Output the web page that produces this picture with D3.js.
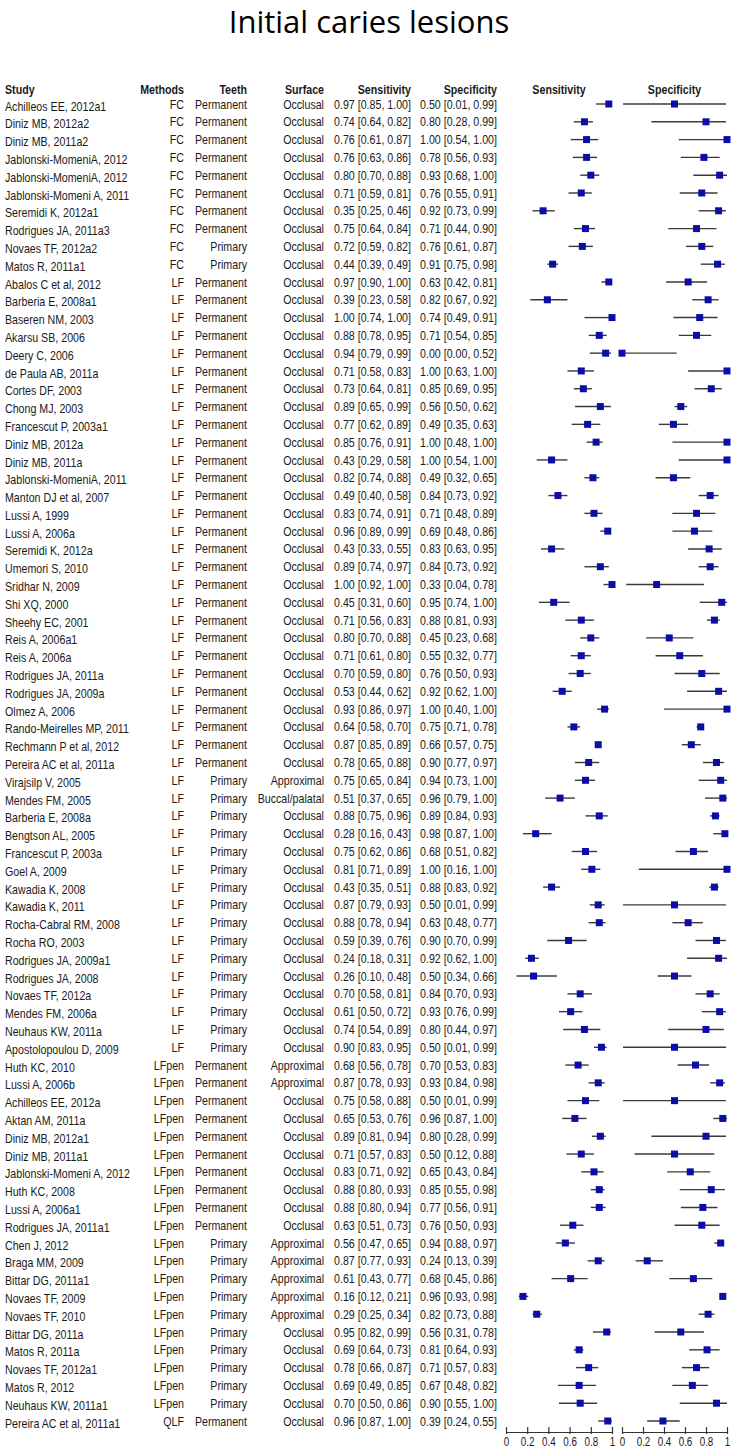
<!DOCTYPE html>
<html>
<head>
  <meta charset="utf-8">
  <title>Initial caries lesions</title>
  <script src="https://d3js.org/d3.v7.min.js"></script>
  <style>
    body { margin: 0; background: #fff; }
    text { font-family: 'Liberation Sans', Arial, sans-serif; fill: #1a1a1a; }
  </style>
</head>
<body>
<div id="chart"></div>
<script type="text/javascript">
  // dados
  let studies = [
    'Achilleos EE, 2012a1', 'Diniz MB, 2012a2', 'Diniz MB, 2011a2', 'Jablonski-MomeniA, 2012',
    'Jablonski-MomeniA, 2012', 'Jablonski-Momeni A, 2011', 'Seremidi K, 2012a1', 'Rodrigues JA, 2011a3',
    'Novaes TF, 2012a2', 'Matos R, 2011a1', 'Abalos C et al, 2012', 'Barberia E, 2008a1',
    'Baseren NM, 2003', 'Akarsu SB, 2006', 'Deery C, 2006', 'de Paula AB, 2011a',
    'Cortes DF, 2003', 'Chong MJ, 2003', 'Francescut P, 2003a1', 'Diniz MB, 2012a',
    'Diniz MB, 2011a', 'Jablonski-MomeniA, 2011', 'Manton DJ et al, 2007', 'Lussi A, 1999',
    'Lussi A, 2006a', 'Seremidi K, 2012a', 'Umemori S, 2010', 'Sridhar N, 2009',
    'Shi XQ, 2000', 'Sheehy EC, 2001', 'Reis A, 2006a1', 'Reis A, 2006a',
    'Rodrigues JA, 2011a', 'Rodrigues JA, 2009a', 'Olmez A, 2006', 'Rando-Meirelles MP, 2011',
    'Rechmann P et al, 2012', 'Pereira AC et al, 2011a', 'Virajsilp V, 2005', 'Mendes FM, 2005',
    'Barberia E, 2008a', 'Bengtson AL, 2005', 'Francescut P, 2003a', 'Goel A, 2009',
    'Kawadia K, 2008', 'Kawadia K, 2011', 'Rocha-Cabral RM, 2008', 'Rocha RO, 2003',
    'Rodrigues JA, 2009a1', 'Rodrigues JA, 2008', 'Novaes TF, 2012a', 'Mendes FM, 2006a',
    'Neuhaus KW, 2011a', 'Apostolopoulou D, 2009', 'Huth KC, 2010', 'Lussi A, 2006b',
    'Achilleos EE, 2012a', 'Aktan AM, 2011a', 'Diniz MB, 2012a1', 'Diniz MB, 2011a1',
    'Jablonski-Momeni A, 2012', 'Huth KC, 2008', 'Lussi A, 2006a1', 'Rodrigues JA, 2011a1',
    'Chen J, 2012', 'Braga MM, 2009', 'Bittar DG, 2011a1', 'Novaes TF, 2009',
    'Novaes TF, 2010', 'Bittar DG, 2011a', 'Matos R, 2011a', 'Novaes TF, 2012a1',
    'Matos R, 2012', 'Neuhaus KW, 2011a1', 'Pereira AC et al, 2011a1'
  ];

  let methods = [].concat(
    Array(10).fill('FC'), Array(44).fill('LF'), Array(20).fill('LFpen'), ['QLF']);

  let teeth = [].concat(
    Array(8).fill('Permanent'), Array(2).fill('Primary'),
    Array(28).fill('Permanent'), Array(16).fill('Primary'),
    Array(10).fill('Permanent'), Array(10).fill('Primary'), ['Permanent']);

  let surfaces = [].concat(
    Array(38).fill('Occlusal'), ['Approximal', 'Buccal/palatal'], Array(14).fill('Occlusal'),
    ['Approximal', 'Approximal'], Array(8).fill('Occlusal'),
    Array(5).fill('Approximal'), Array(6).fill('Occlusal'));

  let sensEst = [0.97,0.74,0.76,0.76,0.80,0.71,0.35,0.75,0.72,0.44, 0.97,0.39,1.00,0.88,0.94,0.71,0.73,0.89,0.77,0.85,
                 0.43,0.82,0.49,0.83,0.96,0.43,0.89,1.00,0.45,0.71, 0.80,0.71,0.70,0.53,0.93,0.64,0.87,0.78,0.75,0.51,
                 0.88,0.28,0.75,0.81,0.43,0.87,0.88,0.59,0.24,0.26, 0.70,0.61,0.74,0.90,0.68,0.87,0.75,0.65,0.89,0.71,
                 0.83,0.88,0.88,0.63,0.56,0.87,0.61,0.16,0.29,0.95, 0.69,0.78,0.69,0.70,0.96];
  let sensLo  = [0.85,0.64,0.61,0.63,0.70,0.59,0.25,0.64,0.59,0.39, 0.90,0.23,0.74,0.78,0.79,0.58,0.64,0.65,0.62,0.76,
                 0.29,0.74,0.40,0.74,0.89,0.33,0.74,0.92,0.31,0.56, 0.70,0.61,0.59,0.44,0.86,0.58,0.85,0.65,0.65,0.37,
                 0.75,0.16,0.62,0.71,0.35,0.79,0.78,0.39,0.18,0.10, 0.58,0.50,0.54,0.83,0.56,0.78,0.58,0.53,0.81,0.57,
                 0.71,0.80,0.80,0.51,0.47,0.77,0.43,0.12,0.25,0.82, 0.64,0.66,0.49,0.50,0.87];
  let sensHi  = [1.00,0.82,0.87,0.86,0.88,0.81,0.46,0.84,0.82,0.49, 1.00,0.58,1.00,0.95,0.99,0.83,0.81,0.99,0.89,0.91,
                 0.58,0.88,0.58,0.91,0.99,0.55,0.97,1.00,0.60,0.83, 0.88,0.80,0.80,0.62,0.97,0.70,0.89,0.88,0.84,0.65,
                 0.96,0.43,0.86,0.89,0.51,0.93,0.94,0.76,0.31,0.48, 0.81,0.72,0.89,0.95,0.78,0.93,0.88,0.76,0.94,0.83,
                 0.92,0.93,0.94,0.73,0.65,0.93,0.77,0.21,0.34,0.99, 0.73,0.87,0.85,0.86,1.00];

  let specEst = [0.50,0.80,1.00,0.78,0.93,0.76,0.92,0.71,0.76,0.91, 0.63,0.82,0.74,0.71,0.00,1.00,0.85,0.56,0.49,1.00,
                 1.00,0.49,0.84,0.71,0.69,0.83,0.84,0.33,0.95,0.88, 0.45,0.55,0.76,0.92,1.00,0.75,0.66,0.90,0.94,0.96,
                 0.89,0.98,0.68,1.00,0.88,0.50,0.63,0.90,0.92,0.50, 0.84,0.93,0.80,0.50,0.70,0.93,0.50,0.96,0.80,0.50,
                 0.65,0.85,0.77,0.76,0.94,0.24,0.68,0.96,0.82,0.56, 0.81,0.71,0.67,0.90,0.39];
  let specLo  = [0.01,0.28,0.54,0.56,0.68,0.55,0.73,0.44,0.61,0.75, 0.42,0.67,0.49,0.54,0.00,0.63,0.69,0.50,0.35,0.48,
                 0.54,0.32,0.73,0.48,0.48,0.63,0.73,0.04,0.74,0.81, 0.23,0.32,0.50,0.62,0.40,0.71,0.57,0.77,0.73,0.79,
                 0.84,0.87,0.51,0.16,0.83,0.01,0.48,0.70,0.62,0.34, 0.70,0.76,0.44,0.01,0.53,0.84,0.01,0.87,0.28,0.12,
                 0.43,0.55,0.56,0.50,0.88,0.13,0.45,0.93,0.73,0.31, 0.64,0.57,0.48,0.55,0.24];
  let specHi  = [0.99,0.99,1.00,0.93,1.00,0.91,0.99,0.90,0.87,0.98, 0.81,0.92,0.91,0.85,0.52,1.00,0.95,0.62,0.63,1.00,
                 1.00,0.65,0.92,0.89,0.86,0.95,0.92,0.78,1.00,0.93, 0.68,0.77,0.93,1.00,1.00,0.78,0.75,0.97,1.00,1.00,
                 0.93,1.00,0.82,1.00,0.92,0.99,0.77,0.99,1.00,0.66, 0.93,0.99,0.97,0.99,0.83,0.98,0.99,1.00,0.99,0.88,
                 0.84,0.98,0.91,0.93,0.97,0.39,0.86,0.98,0.88,0.78, 0.93,0.83,0.82,1.00,0.55];

  let axisTicks = [0, 0.2, 0.4, 0.6, 0.8, 1];

  let width = 736, height = 1453;
  let blue = '#0d0da6';
  let narrow = 0.82;   // Liberation Sans estreitada ~ Arial Narrow
  let f2 = d3.format('.2f');

  let svg = d3.select('#chart')
      .append('svg')
        .attr('width', width)
        .attr('height', height);

  // titulo
  svg.append('text')
     .attr('x', 369)
     .attr('y', 33)
     .attr('text-anchor', 'middle')
     .style('font-family', "'Open Sans', 'Liberation Sans', sans-serif")
     .style('font-size', '31px')
     .style('fill', '#000')
     .text('Initial caries lesions');

  let rows = d3.range(studies.length);
  let y = d3.scalePoint().domain(rows).range([104, 1421]);

  let xSens = d3.scaleLinear().domain([0, 1]).range([506, 612]);
  let xSpec = d3.scaleLinear().domain([0, 1]).range([622, 727]);

  // cabeçalhos
  let headers = [
    {t: 'Study', x: 5, a: 'start'},
    {t: 'Methods', x: 184, a: 'end'},
    {t: 'Teeth', x: 247, a: 'end'},
    {t: 'Surface', x: 324, a: 'end'},
    {t: 'Sensitivity', x: 411, a: 'end'},
    {t: 'Specificity', x: 497, a: 'end'},
    {t: 'Sensitivity', x: 559, a: 'middle'},
    {t: 'Specificity', x: 674.5, a: 'middle'}
  ];
  svg.selectAll('text.header')
     .data(headers)
     .enter()
     .append('text')
     .attr('class', 'header')
     .attr('transform', d => `translate(${d.x},89) scale(${narrow},1)`)
     .attr('dy', '0.35em')
     .attr('text-anchor', d => d.a)
     .style('font-size', '13px')
     .style('font-weight', 'bold')
     .text(d => d.t);

  // colunas de texto
  svg.append('clipPath').attr('id', 'studyClip')
     .append('rect').attr('x', 0).attr('y', 0).attr('width', 131).attr('height', height);

  let columns = [
    {vals: studies, x: 5, a: 'start', dy: 2, clip: true},
    {vals: methods, x: 184, a: 'end', dy: 0},
    {vals: teeth, x: 247, a: 'end', dy: 0},
    {vals: surfaces, x: 324, a: 'end', dy: 0},
    {vals: rows.map(i => `${f2(sensEst[i])} [${f2(sensLo[i])}, ${f2(sensHi[i])}]`), x: 411, a: 'end', dy: 0},
    {vals: rows.map(i => `${f2(specEst[i])} [${f2(specLo[i])}, ${f2(specHi[i])}]`), x: 497, a: 'end', dy: 0}
  ];

  columns.forEach(col => {
    let g = svg.append('g');
    if (col.clip) g.attr('clip-path', 'url(#studyClip)');
    g.selectAll('text')
     .data(col.vals)
     .enter()
     .append('text')
     .attr('transform', (d, i) => `translate(${col.x},${y(i) + col.dy}) scale(${narrow},1)`)
     .attr('dy', '0.35em')
     .attr('text-anchor', col.a)
     .style('font-size', '13px')
     .text(d => d);
  });

  // forest plots
  function forest(x, est, lo, hi) {
    let g = svg.append('g');
    g.selectAll('line.ci')
     .data(rows)
     .enter()
     .append('line')
     .attr('class', 'ci')
     .attr('x1', i => x(lo[i]))
     .attr('x2', i => x(hi[i]))
     .attr('y1', i => y(i))
     .attr('y2', i => y(i))
     .attr('stroke', '#3a3a3a')
     .attr('stroke-width', 1.4);
    g.selectAll('rect')
     .data(rows)
     .enter()
     .append('rect')
     .attr('x', i => x(est[i]) - 3.5)
     .attr('y', i => y(i) - 3.5)
     .attr('width', 7)
     .attr('height', 7)
     .attr('fill', blue);

    let axis = g.append('g')
       .attr('transform', 'translate(0,1432)')
       .call(d3.axisBottom(x).tickValues(axisTicks).tickSize(-5).tickSizeOuter(0)
               .tickPadding(4).tickFormat(d3.format('~g')));
    axis.select('.domain').attr('stroke', '#333').attr('stroke-width', 1.2);
    axis.selectAll('.tick line').attr('y1', 2).attr('y2', -5).attr('stroke', '#333').attr('stroke-width', 1.2);
    axis.selectAll('.tick text')
        .attr('y', 5)
        .attr('transform', `scale(${narrow},1)`)
        .style('font-family', "'Liberation Sans', Arial, sans-serif")
        .style('font-size', '12px')
        .attr('fill', '#1a1a1a');
  }

  forest(xSens, sensEst, sensLo, sensHi);
  forest(xSpec, specEst, specLo, specHi);
</script>
</body>
</html>
